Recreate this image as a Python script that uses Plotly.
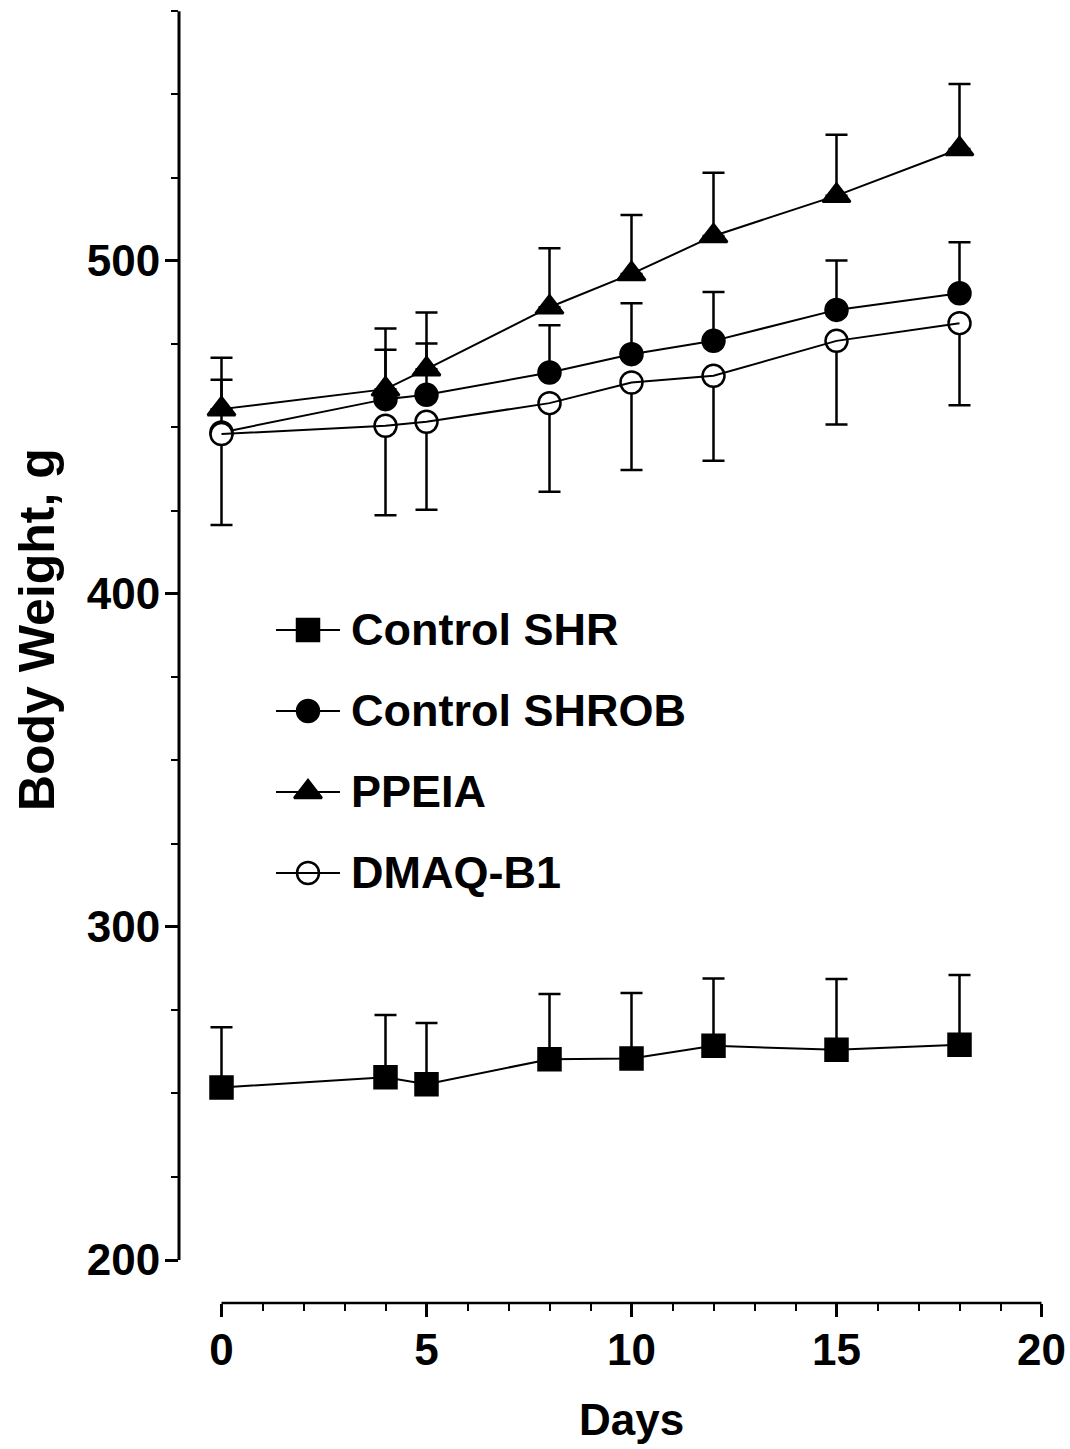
import plotly.graph_objects as go

days = [0, 4, 5, 8, 10, 12, 15, 18]

shr_mean = [251.8, 254.9, 252.8, 260.3, 260.5, 264.3, 263.1, 264.6]
shr_err = [18.1, 18.7, 18.4, 19.6, 19.7, 20.2, 21.3, 21.0]

shrob_mean = [448.5, 458.5, 459.8, 466.5, 472.0, 476.0, 485.3, 490.3]
shrob_err = [15.8, 14.8, 15.4, 14.2, 15.3, 14.7, 14.8, 15.3]

ppeia_mean = [455.5, 461.5, 467.5, 486.1, 496.1, 507.5, 519.6, 533.6]
ppeia_err = [15.4, 18.2, 17.0, 17.7, 17.7, 19.0, 18.3, 19.5]

dmaq_mean = [448.0, 450.5, 451.7, 457.3, 463.5, 465.5, 476.0, 481.3]
dmaq_err = [27.3, 26.9, 26.4, 26.6, 26.3, 25.5, 25.1, 24.6]

series_names = ["Control SHR", "Control SHROB", "PPEIA", "DMAQ-B1"]

y_tickvals = [200, 300, 400, 500]
y_minor = list(range(225, 576, 25))
x_tickvals = [0, 5, 10, 15, 20]
x_minor = list(range(0, 21))

x_title = "Days"
y_title = "Body Weight, g"

FONT = "Liberation Sans, Arial, sans-serif"
BLACK = "black"
zeros = [0] * len(days)

# layout geometry (pixels)
W, H = 1070, 1449
ml, mr, mt, mb = 179, 28, 11, 146
pw = W - ml - mr
ph = H - mt - mb
x_px_per_unit = 41.0
x0_px = 221.5
y_px_per_unit = (1260 - 11) / 375.0
x_range = [-(x0_px - ml) / x_px_per_unit, -(x0_px - ml) / x_px_per_unit + pw / x_px_per_unit]
y_range = [200 - (1303 - 1260) / y_px_per_unit, 575.05]

fig = go.Figure()

styles = [
    dict(symbol="square", fill=BLACK, size=22),
    dict(symbol="circle", fill=BLACK, size=22),
    dict(symbol="triangle-up", fill=BLACK, size=24),
    dict(symbol="circle", fill="white", size=22),
]
means = [shr_mean, shrob_mean, ppeia_mean, dmaq_mean]
ups = [shr_err, shrob_err, ppeia_err, zeros]
downs = [zeros, zeros, zeros, dmaq_err]

for name, mean, up, down, st in zip(series_names, means, ups, downs, styles):
    fig.add_trace(go.Scatter(
        x=days, y=mean, name=name, mode="markers", showlegend=False,
        cliponaxis=False,
        marker=dict(symbol=st["symbol"], size=st["size"], color=st["fill"],
                    line=dict(color=BLACK, width=2.5)),
        error_y=dict(type="data", symmetric=False, array=up, arrayminus=down,
                     color=BLACK, thickness=2.5, width=11),
    ))
    fig.add_trace(go.Scatter(
        x=days, y=mean, name=name, mode="lines", showlegend=False,
        line=dict(color=BLACK, width=2),
    ))

# manual legend (drawn on a hidden helper axis pair)
for i, (name, st) in enumerate(zip(series_names, styles)):
    fig.add_trace(go.Scatter(
        x=[0.5], y=[i], mode="markers", xaxis="x2", yaxis="y2", showlegend=False,
        cliponaxis=False, hoverinfo="skip",
        marker=dict(symbol=st["symbol"], size=st["size"], color=st["fill"],
                    line=dict(color=BLACK, width=2.5)),
    ))
    fig.add_trace(go.Scatter(
        x=[0, 1], y=[i, i], mode="lines", xaxis="x2", yaxis="y2", showlegend=False,
        cliponaxis=False, hoverinfo="skip",
        line=dict(color=BLACK, width=2),
    ))
    fig.add_annotation(
        x=1, y=i, xref="x2", yref="y2", text=name, showarrow=False,
        xanchor="left", yanchor="middle", xshift=9,
        font=dict(family=FONT, size=45, color=BLACK, weight="bold"),
    )

# axis titles
fig.add_annotation(
    x=(x_tickvals[0] + x_tickvals[-1]) / 2, xref="x", y=0, yref="paper",
    yshift=-(1419 - 1303), xanchor="center", yanchor="middle",
    text=x_title, showarrow=False,
    font=dict(family=FONT, size=44, color=BLACK, weight="bold"),
)
fig.add_annotation(
    x=0, xref="paper", xshift=-(ml - 37), y=200 + (1260 - 630) / y_px_per_unit, yref="y",
    xanchor="center", yanchor="middle", textangle=-90,
    text=y_title, showarrow=False,
    font=dict(family=FONT, size=50, color=BLACK, weight="bold"),
)

leg_row_h = 81.0
leg_top_px = 630 - leg_row_h / 2
leg_bot_px = leg_top_px + 4 * leg_row_h

axis_font = dict(family=FONT, size=44, color=BLACK, weight="bold")

fig.update_layout(
    width=W, height=H,
    margin=dict(l=ml, r=mr, t=mt, b=mb, pad=0, autoexpand=False),
    paper_bgcolor="white", plot_bgcolor="white",
    font=dict(family=FONT, size=44, color=BLACK, weight="bold"),
    showlegend=False,
    xaxis=dict(
        range=x_range, domain=[0, 1], automargin=False,
        showgrid=False, zeroline=False, showline=False,
        ticks="outside", ticklen=13, tickwidth=2.5, tickcolor=BLACK,
        tickmode="array", tickvals=x_tickvals, ticklabelstandoff=-5,
        tickfont=axis_font,
        minor=dict(tickmode="array", tickvals=x_minor, ticks="outside",
                   ticklen=7, tickwidth=2, tickcolor=BLACK),
    ),
    yaxis=dict(
        range=y_range, domain=[0, 1], automargin=False,
        showgrid=False, zeroline=False, showline=False,
        ticks="outside", ticklen=13, tickwidth=2.5, tickcolor=BLACK,
        tickmode="array", tickvals=y_tickvals, ticklabelstandoff=-4,
        tickfont=axis_font,
        minor=dict(tickmode="array", tickvals=y_minor, ticks="outside",
                   ticklen=7, tickwidth=2, tickcolor=BLACK),
    ),
    xaxis2=dict(domain=[(276 - ml) / pw, (340 - ml) / pw], range=[0, 1],
                anchor="y2", visible=False),
    yaxis2=dict(domain=[(H - mb - leg_bot_px) / ph, (H - mb - leg_top_px) / ph],
                range=[3.5, -0.5], anchor="x2", visible=False),
    shapes=[
        dict(type="line", xref="paper", x0=0, x1=0, yref="y",
             y0=y_tickvals[0], y1=y_minor[-1], line=dict(color=BLACK, width=3)),
        dict(type="line", xref="x", x0=x_tickvals[0], x1=x_tickvals[-1], yref="paper",
             y0=0, y1=0, line=dict(color=BLACK, width=2.5)),
    ],
)

fig.write_html("out.html")
